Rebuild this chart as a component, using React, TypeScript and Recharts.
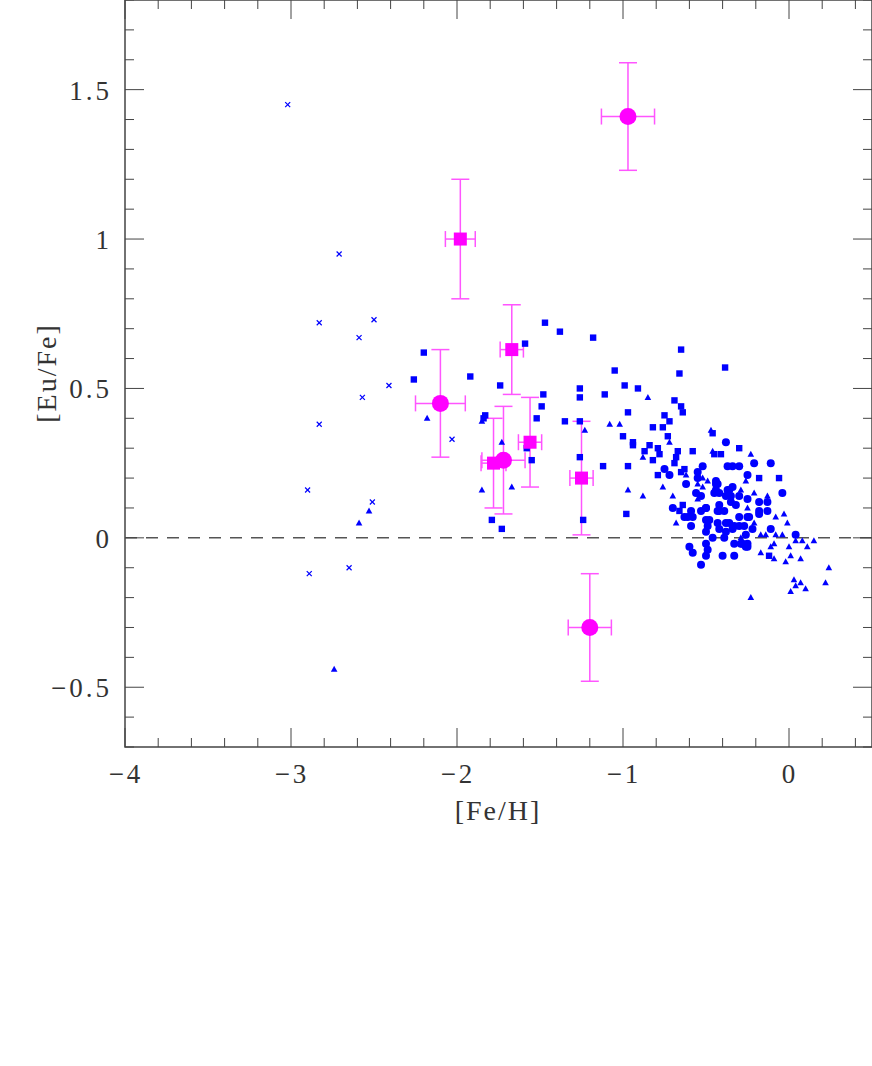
import {
  ErrorBar,
  ReferenceArea,
  ReferenceLine,
  Scatter,
  ScatterChart,
  XAxis,
  YAxis,
} from "recharts";

// [Fe/H], [Eu/Fe] pairs
const blueCrosses: [number, number][] = [
  [-3.02, 1.45], [-2.71, 0.95], [-2.83, 0.72], [-2.5, 0.73], [-2.59, 0.67],
  [-2.41, 0.51], [-2.57, 0.47], [-2.83, 0.38], [-2.03, 0.33], [-2.9, 0.16],
  [-2.51, 0.12], [-2.89, -0.12], [-2.65, -0.1],
];

const blueTriangles: [number, number][] = [
  [-2.53, 0.09], [-2.59, 0.05], [-2.74, -0.44],
  [-2.18, 0.4], [-1.85, 0.39], [-1.73, 0.32], [-1.85, 0.16], [-1.67, 0.17], [-1.23, 0.36],
  [-0.85, 0.47], [-1.08, 0.38], [-1.02, 0.38], [-0.72, 0.32], [-0.88, 0.27], [-0.97, 0.16],
  [-0.88, 0.14], [-0.76, 0.17], [-0.7, 0.14], [-0.62, 0.21], [-0.68, 0.05], [-0.47, 0.36],
  [-0.46, 0.29], [-0.23, 0.28], [-0.52, 0.2], [-0.26, 0.19], [-0.55, 0.18], [-0.52, 0.17],
  [-0.49, 0.19], [-0.21, 0.15], [-0.13, 0.14], [-0.55, 0.13], [-0.29, 0.16], [-0.25, 0.1],
  [-0.03, 0.08], [-0.01, 0.05], [-0.21, 0.05], [-0.17, 0.01], [-0.14, 0.01], [-0.08, 0.01],
  [-0.08, 0.07], [-0.04, 0.01], [-0.29, 0.0], [0.04, -0.01], [0.08, -0.01], [0.11, -0.03],
  [0.15, -0.01], [0.0, -0.03], [-0.11, -0.03], [-0.09, -0.02], [-0.17, -0.05], [0.01, -0.06],
  [0.07, -0.07], [-0.02, -0.08], [-0.09, -0.07], [0.24, -0.1], [0.03, -0.14], [0.07, -0.15],
  [0.04, -0.16], [0.1, -0.17], [0.01, -0.18], [0.22, -0.15], [-0.23, -0.2],
];

const blueSquares: [number, number][] = [
  [-2.2, 0.62], [-2.26, 0.53], [-1.92, 0.54], [-1.74, 0.51], [-1.59, 0.65], [-1.47, 0.72],
  [-1.38, 0.69], [-1.18, 0.67], [-1.48, 0.48], [-1.49, 0.44], [-1.52, 0.4], [-1.83, 0.41],
  [-1.84, 0.4], [-1.55, 0.33], [-1.58, 0.3], [-1.55, 0.26], [-1.71, 0.27], [-1.79, 0.06],
  [-1.73, 0.03], [-1.26, 0.5], [-1.26, 0.47], [-1.26, 0.39], [-1.35, 0.39], [-1.26, 0.27],
  [-1.24, 0.06], [-0.65, 0.63], [-1.05, 0.56], [-0.66, 0.55], [-0.385, 0.57], [-0.99, 0.51],
  [-0.91, 0.5], [-1.11, 0.48], [-0.97, 0.42], [-0.69, 0.46], [-0.65, 0.44], [-0.64, 0.42],
  [-0.75, 0.41], [-0.72, 0.39], [-0.76, 0.37], [-0.82, 0.37], [-1.0, 0.34], [-0.94, 0.32],
  [-0.94, 0.31], [-0.84, 0.31], [-0.87, 0.29], [-0.73, 0.34], [-0.79, 0.3], [-0.78, 0.28],
  [-0.82, 0.26], [-0.67, 0.29], [-0.58, 0.29], [-0.68, 0.27], [-0.69, 0.25], [-1.12, 0.24],
  [-0.97, 0.24], [-0.98, 0.08], [-0.79, 0.21], [-0.65, 0.22], [-0.63, 0.23], [-0.64, 0.11],
  [-0.66, 0.09], [-0.41, 0.28], [-0.3, 0.3], [-0.18, 0.2], [-0.06, 0.2], [-0.12, -0.06],
  [-0.46, 0.35], [-0.45, 0.28],
];

const blueCircles: [number, number][] = [
  [-0.75, 0.23], [-0.72, 0.21], [-0.62, 0.18], [-0.7, 0.1], [-0.38, 0.32], [-0.37, 0.24],
  [-0.34, 0.24], [-0.3, 0.24], [-0.21, 0.25], [-0.11, 0.25], [-0.52, 0.24], [-0.55, 0.22],
  [-0.25, 0.21], [-0.55, 0.2], [-0.44, 0.19], [-0.34, 0.17], [-0.36, 0.16], [-0.45, 0.15],
  [-0.42, 0.15], [-0.56, 0.15], [-0.53, 0.14], [-0.38, 0.14], [-0.3, 0.14], [-0.25, 0.13],
  [-0.04, 0.15], [-0.13, 0.12], [-0.18, 0.12], [-0.35, 0.12], [-0.42, 0.11], [-0.32, 0.11],
  [-0.5, 0.1], [-0.59, 0.09], [-0.53, 0.09], [-0.43, 0.09], [-0.39, 0.09], [-0.63, 0.07],
  [-0.61, 0.07], [-0.58, 0.07], [-0.5, 0.06], [-0.43, 0.05], [-0.3, 0.07], [-0.25, 0.07],
  [-0.18, 0.08], [-0.13, 0.09], [-0.59, 0.04], [-0.38, 0.05], [-0.49, 0.04], [-0.33, 0.04],
  [-0.27, 0.04], [-0.22, 0.03], [-0.42, 0.03], [-0.5, 0.02], [-0.38, 0.02], [-0.34, 0.03],
  [-0.11, 0.03], [-0.46, 0.0], [-0.39, 0.0], [-0.26, 0.01], [0.04, 0.01], [-0.33, -0.02],
  [-0.29, -0.02], [-0.26, -0.03], [-0.25, -0.02], [-0.5, -0.02], [-0.6, -0.03], [-0.58, -0.05],
  [-0.49, -0.04], [-0.5, -0.06], [-0.4, -0.06], [-0.33, -0.06], [-0.53, -0.09], [-0.44, 0.18],
  [-0.44, 0.16], [-0.43, 0.18], [-0.37, 0.16], [-0.35, 0.14], [-0.5, 0.1], [-0.42, 0.09],
  [-0.48, 0.06], [-0.36, 0.05], [-0.3, 0.04], [-0.24, 0.07], [-0.18, 0.09], [-0.28, -0.02],
  [-0.25, -0.03],
];

// magenta stars with errors: x, y, xErr, yErr
const magentaCircles = [
  { x: -0.97, y: 1.41, ex: 0.16, ey: 0.18 },
  { x: -2.1, y: 0.45, ex: 0.15, ey: 0.18 },
  { x: -1.72, y: 0.26, ex: 0.13, ey: 0.18 },
  { x: -1.2, y: -0.3, ex: 0.13, ey: 0.18 },
];

const magentaSquares = [
  { x: -1.98, y: 1.0, ex: 0.09, ey: 0.2 },
  { x: -1.67, y: 0.63, ex: 0.07, ey: 0.15 },
  { x: -1.56, y: 0.32, ex: 0.07, ey: 0.15 },
  { x: -1.78, y: 0.25, ex: 0.075, ey: 0.15 },
  { x: -1.25, y: 0.2, ex: 0.07, ey: 0.19 },
];

const xMajorTicks = [-4, -3, -2, -1, 0];
const xTicks = [
  -4, -3.8, -3.6, -3.4, -3.2, -3, -2.8, -2.6, -2.4, -2.2, -2, -1.8, -1.6, -1.4, -1.2,
  -1, -0.8, -0.6, -0.4, -0.2, 0, 0.2, 0.4,
];
const yMajorTicks = [-0.5, 0, 0.5, 1, 1.5];
const yTicks = [
  -0.7, -0.6, -0.5, -0.4, -0.3, -0.2, -0.1, 0, 0.1, 0.2, 0.3, 0.4, 0.5, 0.6, 0.7, 0.8,
  0.9, 1, 1.1, 1.2, 1.3, 1.4, 1.5, 1.6, 1.7, 1.8,
];

const PLOT_TOP = 0;
const PLOT_BOTTOM = 747;
const PLOT_LEFT = 125;
const PLOT_RIGHT = 872;
const AXIS_COLOR = "#444";
const FONT = "'Liberation Serif', 'DejaVu Serif', serif";
const BLUE = "#0000ff";
const MAGENTA = "#ff00ff";

const toPts = (arr: [number, number][]) => arr.map(([x, y]) => ({ x, y }));

const fmt = (v: number) => (v < 0 ? "\u2212" + Math.abs(v) : String(v));

function XTick({ x, payload }: any) {
  const v = payload.value;
  const major = xMajorTicks.includes(v);
  const len = major ? 19 : 9;
  return (
    <g>
      <line x1={x} x2={x} y1={PLOT_BOTTOM} y2={PLOT_BOTTOM - len} stroke={AXIS_COLOR} />
      <line x1={x} x2={x} y1={PLOT_TOP} y2={PLOT_TOP + len} stroke={AXIS_COLOR} />
      {major && (
        <text
          x={x + 1}
          y={783}
          textAnchor="middle"
          fontFamily={FONT}
          fontSize={27}
          letterSpacing={3}
          fill="#333"
        >
          {fmt(v)}
        </text>
      )}
    </g>
  );
}

function YTick({ y, payload }: any) {
  const v = payload.value;
  const major = yMajorTicks.includes(v);
  const len = major ? 19 : 9;
  return (
    <g>
      <line x1={PLOT_LEFT} x2={PLOT_LEFT + len} y1={y} y2={y} stroke={AXIS_COLOR} />
      <line x1={PLOT_RIGHT} x2={PLOT_RIGHT - len} y1={y} y2={y} stroke={AXIS_COLOR} />
      {major && (
        <text
          x={112}
          y={y + 10}
          textAnchor="end"
          fontFamily={FONT}
          fontSize={27}
          letterSpacing={3}
          fill="#333"
        >
          {fmt(v)}
        </text>
      )}
    </g>
  );
}

const BlueSquare = ({ cx, cy }: any) => (
  <rect x={cx - 3.2} y={cy - 3.2} width={6.4} height={6.4} fill={BLUE} />
);
const BlueCircle = ({ cx, cy }: any) => <circle cx={cx} cy={cy} r={4} fill={BLUE} />;
const BlueTriangle = ({ cx, cy }: any) => (
  <polygon
    points={`${cx},${cy - 3.5} ${cx - 3.3},${cy + 2.5} ${cx + 3.3},${cy + 2.5}`}
    fill={BLUE}
  />
);
const BlueCross = ({ cx, cy }: any) => (
  <g stroke={BLUE} strokeWidth={1.2}>
    <line x1={cx - 2.5} y1={cy - 2.5} x2={cx + 2.5} y2={cy + 2.5} />
    <line x1={cx - 2.5} y1={cy + 2.5} x2={cx + 2.5} y2={cy - 2.5} />
  </g>
);
const MagentaCircle = ({ cx, cy }: any) => <circle cx={cx} cy={cy} r={8.5} fill={MAGENTA} />;
const MagentaSquare = ({ cx, cy }: any) => (
  <rect x={cx - 6.5} y={cy - 6.5} width={13} height={13} fill={MAGENTA} />
);

const XTitle = () => (
  <text x={498} y={820} textAnchor="middle" fontFamily={FONT} fontSize={28} letterSpacing={2} fill="#333">
    [Fe/H]
  </text>
);
const YTitle = () => (
  <text
    x={56}
    y={373}
    transform="rotate(-90 56 373)"
    textAnchor="middle"
    fontFamily={FONT}
    fontSize={28}
    letterSpacing={2}
    fill="#333"
  >
    [Eu/Fe]
  </text>
);

export default function App() {
  return (
    <div style={{ position: "absolute", left: 0, top: 0 }}>
      <ScatterChart
        width={872}
        height={1066}
        margin={{ top: 0, right: 0, left: 0, bottom: 0 }}
      >
        <XAxis
          type="number"
          dataKey="x"
          domain={[-4, 0.5]}
          ticks={xTicks}
          interval={0}
          height={319}
          axisLine={false}
          tickLine={false}
          tick={<XTick />}
          allowDataOverflow
          label={{ content: () => <XTitle /> }}
        />
        <YAxis
          type="number"
          dataKey="y"
          domain={[-0.7, 1.8]}
          ticks={yTicks}
          interval={0}
          width={125}
          axisLine={false}
          tickLine={false}
          tick={<YTick />}
          allowDataOverflow
          label={{ content: () => <YTitle /> }}
        />
        <ReferenceArea
          x1={-4}
          x2={0.5}
          y1={-0.7}
          y2={1.8}
          fill="none"
          stroke={AXIS_COLOR}
          strokeWidth={1.5}
          ifOverflow="visible"
        />
        <ReferenceLine y={0} stroke="#555" strokeWidth={1.5} strokeDasharray="12 9" />
        <Scatter data={toPts(blueCrosses)} shape={<BlueCross />} isAnimationActive={false} />
        <Scatter data={toPts(blueTriangles)} shape={<BlueTriangle />} isAnimationActive={false} />
        <Scatter data={toPts(blueSquares)} shape={<BlueSquare />} isAnimationActive={false} />
        <Scatter data={toPts(blueCircles)} shape={<BlueCircle />} isAnimationActive={false} />
        <Scatter data={magentaSquares} shape={<MagentaSquare />} isAnimationActive={false}>
          <ErrorBar dataKey="ey" direction="y" width={9} stroke="#ff55ff" strokeWidth={1.5} isAnimationActive={false} />
          <ErrorBar dataKey="ex" direction="x" width={8} stroke="#ff55ff" strokeWidth={1.5} isAnimationActive={false} />
        </Scatter>
        <Scatter data={magentaCircles} shape={<MagentaCircle />} isAnimationActive={false}>
          <ErrorBar dataKey="ey" direction="y" width={9} stroke="#ff55ff" strokeWidth={1.5} isAnimationActive={false} />
          <ErrorBar dataKey="ex" direction="x" width={8} stroke="#ff55ff" strokeWidth={1.5} isAnimationActive={false} />
        </Scatter>
      </ScatterChart>
    </div>
  );
}
